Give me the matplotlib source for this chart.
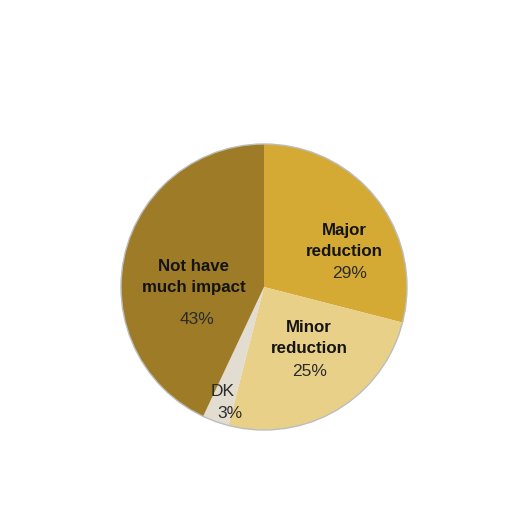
import matplotlib
matplotlib.use("Agg")
import matplotlib.pyplot as plt

categories = ["Major\nreduction", "Minor\nreduction", "DK", "Not have\nmuch impact"]
values = [29, 25, 3, 43]
colors = ["#D4AA35", "#E9D088", "#E2DDD0", "#9D7B27"]

# label placement (pixel coords of figure, y from top)
name_pos = [(344, 241), (309, 338), (223, 392), (194, 277)]
pct_pos = [(350, 274), (310, 372), (230, 413), (197, 320)]

plt.rcParams['font.family'] = ['Liberation Sans', 'DejaVu Sans']

fig = plt.figure(figsize=(5.12, 5.12), dpi=100)
ax = fig.add_axes([0, 0, 1, 1])
ax.set_xlim(0, 512)
ax.set_ylim(512, 0)
ax.set_aspect('equal')
ax.axis('off')

# y-axis is inverted: startangle=-90 points up, counterclock=True runs clockwise on screen
ax.pie(values, colors=colors, startangle=-90, counterclock=True,
       center=(264, 287), radius=143,
       wedgeprops=dict(linewidth=0))
circle = plt.Circle((264, 287), 143, fill=False, edgecolor="#BDBDBD", linewidth=1.0)
ax.add_patch(circle)
ax.set_xlim(0, 512)
ax.set_ylim(512, 0)

for name, v, (nx, ny), (px, py) in zip(categories, values, name_pos, pct_pos):
    if "\n" not in name:
        ax.text(nx, ny, name, ha='center', va='center', fontsize=12.5, color="#2b2b2b")
    else:
        ax.text(nx, ny, name, ha='center', va='center', fontsize=12.2,
                fontweight='bold', color="#141414", linespacing=1.55)
    ax.text(px, py, f"{v}%", ha='center', va='center', fontsize=12.5, color="#2b2b2b")

fig.savefig("out.png", dpi=100)
